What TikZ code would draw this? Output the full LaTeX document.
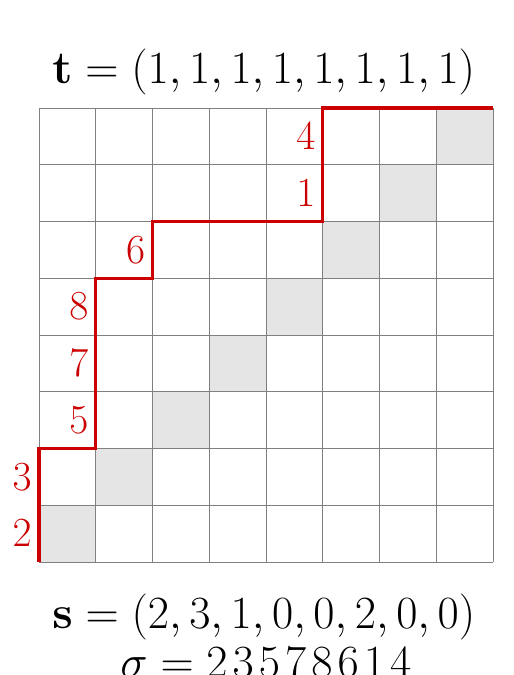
\documentclass[tikz,border=0pt]{standalone}
\begin{document}
\begin{tikzpicture}[every node/.style={font=\huge},
  lbl/.style={text=red!80!black,left,inner sep=3.5pt},
  eqn/.style={anchor=base,scale=1.115},
  path/.style={red!80!black,line width=1.6pt}]
\useasboundingbox (-0.687,-1.991) rectangle (8.370,9.903);
% diagonal cells
\foreach \i in {0,...,7} \fill[gray!20] (\i,\i) rectangle ++(1,1);
\draw[gray,line width=0.4pt] (0,0) grid (8,8);
% lattice path
\draw[path] (0,0) |- (1,2) |- (2,5) |- (5,6) |- (8,8);
\foreach \x/\y/\n in {0/0/2,0/1/3,1/2/5,1/3/7,1/4/8,2/5/6,5/6/1,5/7/4}
  \node[lbl] (l\n) at (\x,\y+0.5) {$\n$};
\node[eqn] (top) at (3.96,8.44) {$\mathbf{t}=(1,1,1,1,1,1,1,1)$};
\node[eqn] (bot) at (3.96,-1.163) {$\mathbf{s}=(2,3,1,0,0,2,0,0)$};
\node[eqn] (perm) at (4.0,-2.03) {$\sigma=2\mkern2mu3\mkern2mu5\mkern2mu7\mkern2mu8\mkern2mu6\mkern2mu1\mkern2mu4$};
\end{tikzpicture}
\end{document}
